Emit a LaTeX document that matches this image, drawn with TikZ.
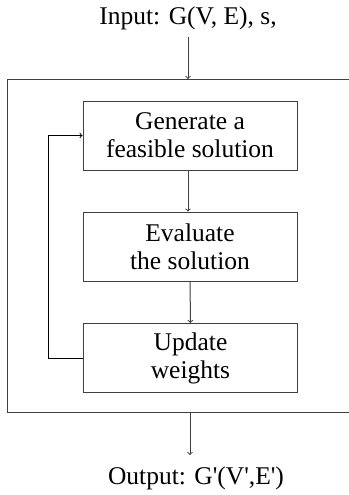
\documentclass[tikz,border=0pt]{standalone}
\usepackage{fontspec}
\setmainfont{Liberation Serif}
\usetikzlibrary{arrows,calc}

\begin{document}
\begin{tikzpicture}[x=1pt,y=-1pt,>=to,
  blk/.style={draw=black!75,line width=1pt,minimum width=214pt,minimum height=69pt,
    align=center,inner sep=0pt,font=\fontsize{25.5}{28}\selectfont},
  txt/.style={align=center,inner sep=0pt,font=\fontsize{25.5}{28}\selectfont}]
\useasboundingbox (0,0) rectangle (348,495);
\node[txt] (in) at (188,18) {Input: G(V, E), s,};
\coordinate (T) at (188,79);
\draw [draw=black!75,line width=1pt] (349,79) -- (7.5,79) -- (7.5,412.5) -- (349,412.5);
\node[blk] (gen) at (190,135.5) {Generate a\\feasible solution};
\node[blk] (eva) at (190,246.5) {Evaluate\\the solution};
\node[blk] (upd) at (190.5,358) {Update\\weights};
\coordinate (B) at (190,412.5);
\coordinate (E) at (190,455);
\node[txt] (out) at (196,478) {Output: G\textquotesingle(V\textquotesingle,E\textquotesingle)};
\draw [->,black!75,line width=1pt] (188,37) -- (T);
\draw [->,black!75,line width=1pt] (gen.south -| 188,0) -- (eva.north -| 188,0);
\draw [->,black!75,line width=1pt] (eva) -- (upd);
\draw [->,line width=1pt] (upd.west) -- ++(-35,0) |- (gen.west);
\draw [->,black!75,line width=1pt] (B) -- (E);
\end{tikzpicture}
\end{document}
